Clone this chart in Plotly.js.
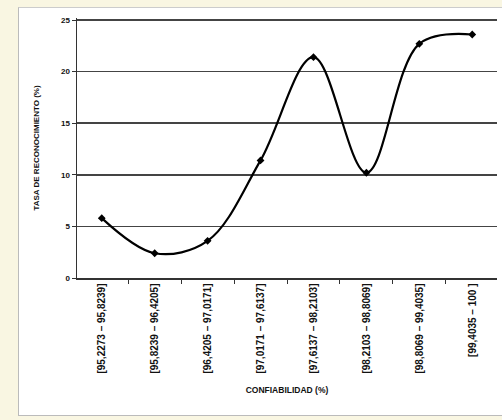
<!DOCTYPE html>
<html>
<head>
<meta charset="utf-8">
<script src="https://cdn.plot.ly/plotly-3.0.1.min.js"></script>
<style>
html,body{margin:0;padding:0;background:#f9f6e2;width:502px;height:420px;overflow:hidden;}
#chart{position:absolute;left:18px;top:7px;width:484px;height:409px;background:#fff;box-sizing:border-box;border-left:1px solid #bbb;border-top:1px solid #ccc;border-bottom:1px solid #bbb;}
</style>
</head>
<body>
<div id="chart"></div>
<script>
const categories = [
  "[95,2273 – 95,8239]",
  "[95,8239 – 96,4205]",
  "[96,4205 – 97,0171]",
  "[97,0171 – 97,6137]",
  "[97,6137 – 98,2103]",
  "[98,2103 – 98,8069]",
  "[98,8069 – 99,4035]",
  "[99,4035 – 100 ]"
];
const tasa = [5.8, 2.4, 3.6, 11.4, 21.4, 10.2, 22.7, 23.6];
const yTicks = [0, 5, 10, 15, 20, 25];
const yRange = [0, 25.2];

const fam = "Liberation Sans, Arial, sans-serif";

Plotly.newPlot("chart", [{
  x: categories,
  y: tasa,
  type: "scatter",
  mode: "lines+markers",
  line: {color: "#000", width: 2.2, shape: "spline", smoothing: 1},
  marker: {symbol: "diamond", size: 6, color: "#000"},
  showlegend: false,
  hoverinfo: "x+y"
}], {
  width: 483, height: 407,
  paper_bgcolor: "#fff",
  plot_bgcolor: "#fff",
  margin: {l: 58, r: 5, t: 10, b: 137},
  font: {family: fam, color: "#111"},
  xaxis: {
    type: "category",
    tickangle: -90,
    tickfont: {size: 10, weight: "bold", family: fam, color: "#111"},
    showline: true, linecolor: "#333", linewidth: 1.5,
    ticks: "outside", tickson: "boundaries", ticklen: 4, tickcolor: "#333",
    showgrid: false,
    title: {text: "CONFIABILIDAD (%)", font: {size: 8.5, weight: "bold", family: fam, color: "#111"}, standoff: 14},
    fixedrange: true
  },
  yaxis: {
    range: yRange,
    tickvals: yTicks,
    tickfont: {size: 8, weight: "bold", family: fam, color: "#111"},
    showline: true, linecolor: "#333", linewidth: 1.5,
    ticks: "outside", ticklen: 4, tickcolor: "#333",
    showgrid: true, gridcolor: "#444", gridwidth: 1.5,
    zeroline: false,
    title: {text: "TASA DE RECONOCIMIENTO (%)", font: {size: 8, weight: "bold", family: fam, color: "#111"}, standoff: 20},
    fixedrange: true
  }
}, {displayModeBar: false, staticPlot: true});
</script>
</body>
</html>
